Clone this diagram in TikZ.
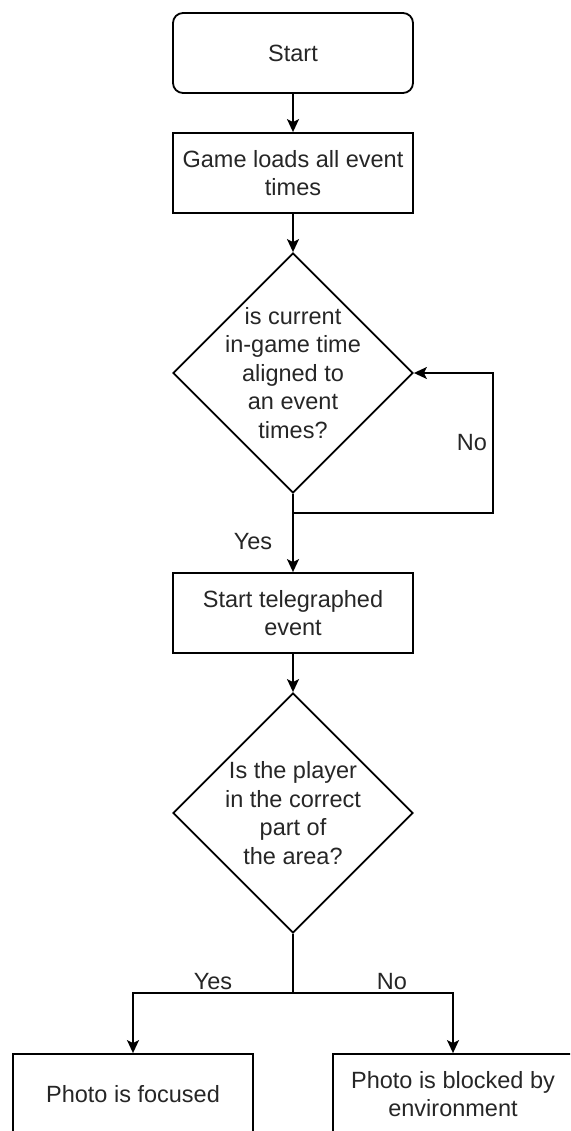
\documentclass[tikz,border=0pt]{standalone}
\usepackage{fontspec}
\setmainfont{Liberation Sans}
\usetikzlibrary{positioning,arrows.meta,shapes.geometric}

\begin{document}
\begin{tikzpicture}[x=1pt,y=-1pt,line width=1.8pt,
    every node/.style={font=\fontsize{23.5}{28.5}\selectfont,align=center,text=black!85},
    stepbox/.style={draw,minimum width=240pt,minimum height=80pt,inner sep=0pt},
    startbox/.style={stepbox,rounded corners=10pt},
    decision/.style={draw,diamond,minimum width=240pt,minimum height=240pt,inner sep=0pt},
    flow/.style={-{Stealth[length=13pt,width=12pt,inset=3pt]}}]
    \clip (0,0) rectangle (570,1131);
    % boxes
    \node[startbox] (start) at (293,53) {Start};
    \node[stepbox] (load) at (293,173) {Game loads all event\\times};
    \node[decision] (aligned) at (293,373) {};
    \node at (aligned) {is current\\in-game time\\aligned to\\an event\\times?};
    \node[stepbox] (telegraph) at (293,613) {Start telegraphed\\event};
    \node[decision] (area) at (293,813) {};
    \node at (area) {Is the player\\in the correct\\part of\\the area?};
    \node[stepbox] (focused) at (133,1094) {Photo is focused};
    \node[stepbox] (blocked) at (453,1094) {Photo is blocked by\\environment};
    \coordinate (join) at (293,513); \coordinate (noturn) at (493,373);
    \coordinate (split) at (293,993);
    % connectors
    \draw[flow] (start) -- (load);
    \draw[flow] (load) -- (aligned);
    \draw[flow] (aligned.south) -- (telegraph);
    \draw[flow] (join) -| (noturn) -- (aligned.east);
    \draw[flow] (telegraph) -- (area);
    \draw (area.south) -- (split);
    \draw[flow] (split) -| (focused.north);
    \draw[flow] (split) -| (blocked.north);
    % labels
    \node (yesloop) at (253,542) {Yes}; \node (noloop) at (472,443) {No};
    \node (yesarea) at (213,982) {Yes}; \node (noarea) at (392,982) {No};
  \end{tikzpicture}
\end{document}
